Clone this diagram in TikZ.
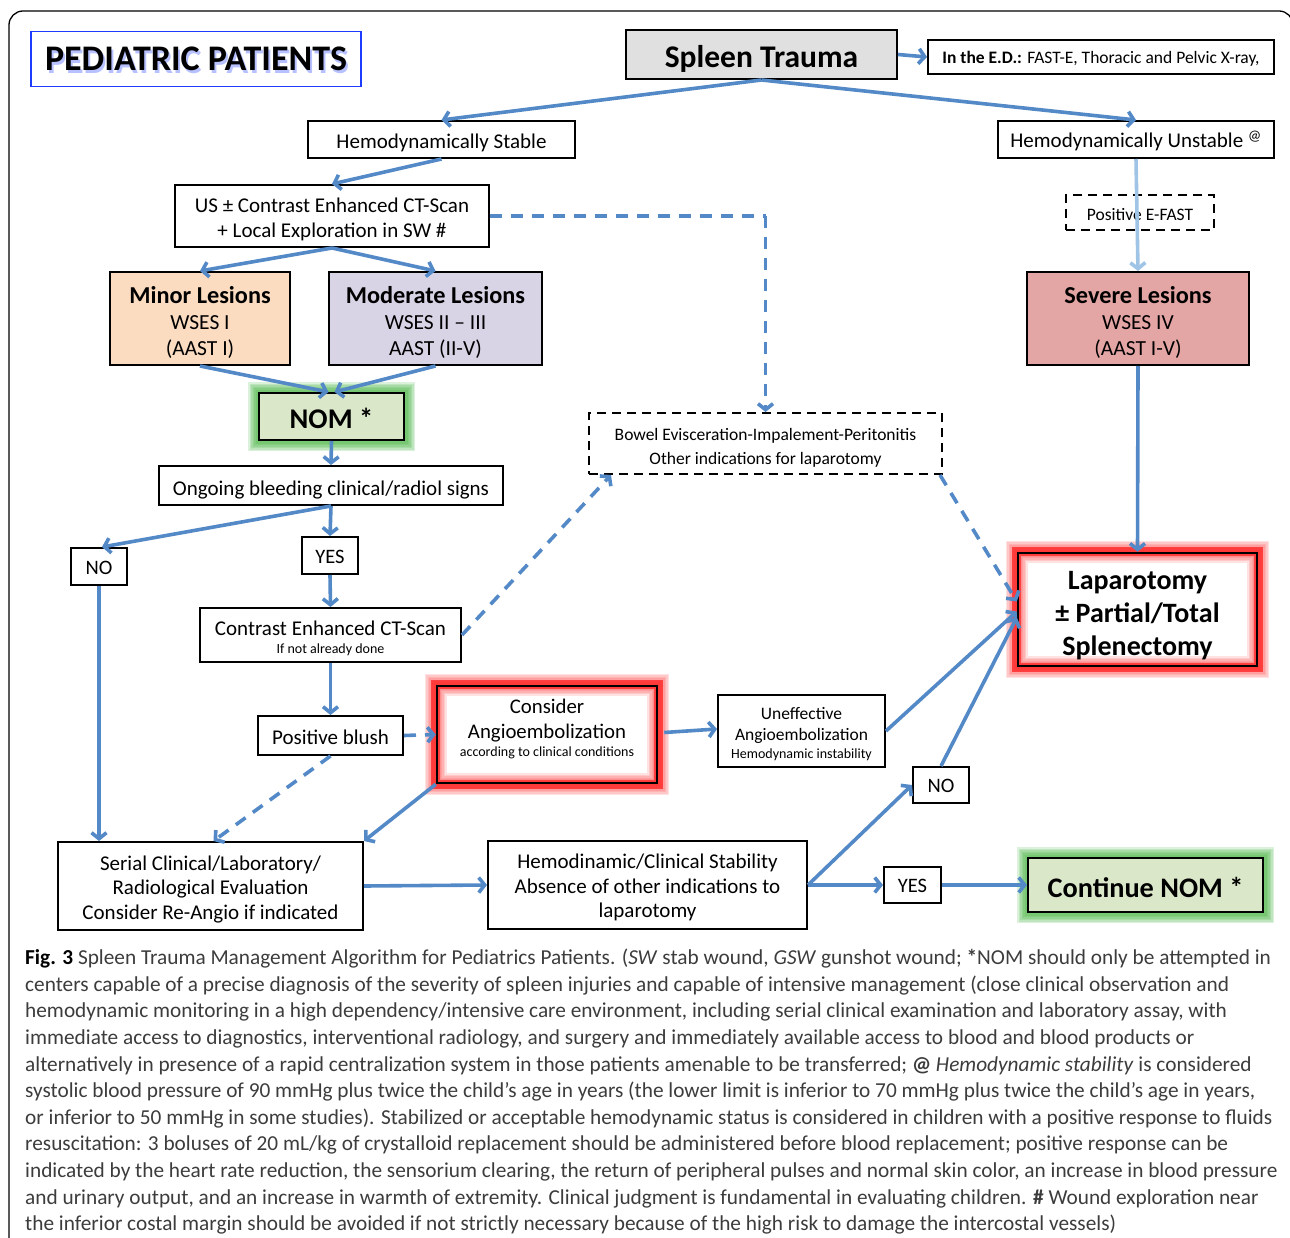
\documentclass[tikz,border=0pt]{standalone}
\usepackage{fontspec}
\setmainfont{Carlito}
\usetikzlibrary{arrows.meta,calc}
\definecolor{arrowblue}{RGB}{84,137,199}
\definecolor{lightarrow}{RGB}{160,196,230}
\definecolor{titleblue}{RGB}{30,60,255}
\definecolor{spleengray}{RGB}{224,224,224}
\definecolor{minorfill}{RGB}{251,220,192}
\definecolor{modfill}{RGB}{217,211,230}
\definecolor{sevfill}{RGB}{228,166,164}
\definecolor{nomfill}{RGB}{219,231,201}
\definecolor{glowgreen}{RGB}{50,170,45}
\definecolor{glowred}{RGB}{255,30,30}
\definecolor{capgray}{RGB}{60,60,60}
\newcommand\fsz[2]{\fontsize{#1}{#2}\selectfont}
\newcommand\lift[1]{\rule{0pt}{#1pt}}
\pgfdeclarelayer{glow}
\pgfsetlayers{glow,main}
\begin{document}
\begin{tikzpicture}[x=1pt,y=-1pt,
  box/.style={draw=black, line width=2pt, align=center, inner sep=0pt, font=\fsz{21}{25}},
  wh/.style 2 args={minimum width=#1pt, minimum height=#2pt},
  dn/.style={execute at begin node={\rule{0pt}{#1pt}}},
  upby/.style={execute at end node={\rule[-#1pt]{0pt}{0pt}}},
  dbox/.style={box, dash pattern=on 9pt off 6pt, line width=2pt},
  arr/.style={draw=arrowblue, line width=3.6pt, -{Straight Barb[length=6pt,width=15pt]}},
  darr/.style={arr, dash pattern=on 12pt off 9pt},
  dline/.style={draw=arrowblue, line width=3.6pt, dash pattern=on 12pt off 9pt},
  rglow/.style={glowred, line width=#1pt, opacity=0.13},
  gglow/.style={glowgreen, line width=#1pt, opacity=0.17}]
\useasboundingbox (0,0) rectangle (1290,1238);
% outer frame
\draw[line width=1.3pt, rounded corners=14pt] (9,1260) -- (9,11) -- (1293,11) -- (1293,1260);

% nodes
\node[box, wh={330}{55}, draw=titleblue, line width=1.6pt, font=\fsz{36}{38}\bfseries] (title) at (196,59) {PEDIATRIC PATIENTS};
\node[box, wh={271}{49}, fill=spleengray, font=\fsz{31.5}{34}\bfseries, dn=30.7] (spleen) at (761.5,54.5) {Spleen Trauma};
\node[box, wh={346}{34}, font=\fsz{17.5}{20}, dn=16.6] (ed) at (1101,57) {\textbf{In the E.D.:} FAST-E, Thoracic and Pelvic X-ray,};
\node[box, wh={267}{37}, dn=21.1] (hs) at (441.5,139.5) {Hemodynamically Stable};
\node[box, wh={276}{37}, dn=20] (hu) at (1136,139.5) {Hemodynamically Unstable \textsuperscript{@}};
\node[box, wh={314}{62}] (us) at (332,216) {\lift{22.1}US ± Contrast Enhanced CT-Scan\\+ Local Exploration in SW \#};
\node[box, wh={180}{93}, fill=minorfill, font=\fsz{21.5}{26}] (minor) at (200,318.5) {{\lift{25.5}\fsz{24.3}{26}\bfseries Minor Lesions}\\WSES I\\(AAST I)};
\node[box, wh={213}{93}, fill=modfill, font=\fsz{21.5}{26}] (moderate) at (435.5,318.5) {{\lift{25.5}\fsz{24.3}{26}\bfseries Moderate Lesions}\\WSES II – III\\AAST (II-V)};
\node[box, wh={222}{93}, fill=sevfill, font=\fsz{21.5}{26}] (severe) at (1138,318.5) {{\lift{25.5}\fsz{24.3}{26}\bfseries Severe Lesions}\\WSES IV\\(AAST I-V)};
\node[dbox, wh={148}{35}, font=\fsz{17.5}{20}, dn=16.6] (efast) at (1140,212.5) {Positive E-FAST};
\node[box, wh={145}{47}, fill=nomfill, font=\fsz{28.5}{32}\bfseries, dn=24.5] (nom) at (331.5,416.5) {NOM *};
\node[box, wh={344}{39}, dn=23.1] (ongoing) at (331,485.5) {Ongoing bleeding clinical/radiol signs};
\node[dbox, wh={353}{61}, font=\fsz{17.5}{24}] (bowel) at (765.5,443.5) {\lift{20.6}Bowel Evisceration-Impalement-Peritonitis\\Other indications for laparotomy};
\node[box, wh={56}{37}, font=\fsz{20.5}{22}, dn=15.5] (noL) at (99,566.5) {NO};
\node[box, wh={56}{37}, font=\fsz{20.5}{22}, dn=15.5] (yesM) at (330,555.5) {YES};
\node[box, wh={261}{54}] (ct) at (330.5,635) {\lift{21.1}Contrast Enhanced CT-Scan\\[-7pt]{\fsz{14}{15}If not already done}};
\node[box, wh={145}{39}, dn=19.1] (blush) at (330.5,735.5) {Positive blush};
\node[box, wh={220}{97}, line width=2.5pt, font=\fsz{20.8}{25}, upby=13] (angio) at (547,734.5) {Consider\\Angioembolization\\[-7pt]{\fsz{14}{15}according to clinical conditions}};
\node[box, wh={167}{72}, font=\fsz{17.5}{21}] (uneff) at (801.5,731) {\lift{18.6}Uneffective\\Angioembolization\\[-3pt]{\fsz{14}{15}Hemodynamic instability}};
\node[box, wh={239}{113}, line width=2.5pt, font=\fsz{28}{33}\bfseries] (lap) at (1137.5,609.5) {\lift{30.2}Laparotomy\\± Partial/Total\\Splenectomy};
\node[box, wh={56}{36}, font=\fsz{20.5}{22}, dn=15.5] (noR) at (941,785) {NO};
\node[box, wh={305}{88}, font=\fsz{21}{24.5}] (serial) at (210.5,886) {\lift{21.1}Serial Clinical/Laboratory/\\Radiological Evaluation\\Consider Re-Angio if indicated};
\node[box, wh={319}{88}, font=\fsz{21}{24.5}] (hemo) at (647.5,885) {\lift{20.1}Hemodinamic/Clinical Stability\\Absence of other indications to\\laparotomy};
\node[box, wh={57}{36}, font=\fsz{20.5}{22}, dn=15.5] (yesR) at (912.5,885) {YES};
\node[box, wh={235}{54}, fill=nomfill, font=\fsz{28.3}{32}\bfseries, dn=24.4] (cont) at (1145.5,885) {Continue NOM *};

% glows and shadows
\begin{pgfonlayer}{glow}
  \foreach \n in {angio,lap}{
    \foreach \w in {22,19,16,13,10,7,4}{\draw[rglow=\w] (\n.north west) rectangle (\n.south east);}
    \draw[glowred, line width=9pt, opacity=0.7] (\n.north west) rectangle (\n.south east);
  }
  \foreach \n in {nom,cont}{
    \foreach \w in {20,17,14,11,8,5}{\draw[gglow=\w] (\n.north west) rectangle (\n.south east);}
  }
  \node[text=titleblue!40, font=\fsz{36}{38}\bfseries, opacity=0.8] (titleshadow) at ($(title.center)+(2,3)$) {PEDIATRIC PATIENTS};
\end{pgfonlayer}

% connectors
\draw[arr] (spleen.east) -- (ed.west);
\draw[arr] (spleen.south) -- (hs.north);
\draw[arr] (spleen.south) -- (hu.north);
\draw[arr] (hs.south) -- (us.north);
\draw[arr] (us.south) -- (minor.north);
\draw[arr] (us.south) -- (moderate.north);
\draw[arr] (minor.south) -- ($(nom.north)+(-3,0)$);
\draw[arr] (moderate.south) -- ($(nom.north)+(3,0)$);
\draw[arr] (nom.south) -- (ongoing.north);
\draw[arr] (ongoing.south) -- ($(noL.north)+(3,0)$);
\draw[arr] (ongoing.south) -- (yesM.north);
\draw[arr] (yesM.south) -- (ct.north);
\draw[arr] (ct.south) -- (blush.north);
\draw[darr] (blush.east) -- (angio.west);
\draw[arr] ($(angio.east)+(6,-2)$) -- ($(uneff.west)+(0,-2)$);
\draw[darr] (ct.east) -- ($(bowel.south west)+(23,0)$);
\draw[dline] (us.east) -- (us.east -| bowel.north);
\draw[darr] (us.east -| bowel.north) -- (bowel.north);
\draw[darr] ($(bowel.south east)+(-3,0)$) -- ($(lap.west)+(0,-8)$);
\draw[draw=lightarrow, line width=3.6pt, -{Straight Barb[length=6pt,width=15pt]}] (hu.south) -- (severe.north);
\draw[arr] (severe.south) -- (lap.north);
\draw[arr] (uneff.east) -- ($(lap.west)+(0,2)$);
\draw[arr] (noR.north) -- ($(lap.west)+(0,8)$);
\draw[arr] (noL.south) -- (noL.south |- serial.north);
\draw[darr] (blush.south) -- ($(serial.north)+(3,0)$);
\draw[arr] (angio.south west) -- (serial.north east);
\draw[arr] (serial.east) -- (hemo.west);
\draw[arr] (hemo.east) -- (noR.west);
\draw[arr] (hemo.east) -- (yesR.west);
\draw[arr] (yesR.east) -- (cont.west);

% caption
\node[anchor=north west, align=left, inner sep=0pt, text=capgray, font=\fsz{21.3}{26.6}] (caption) at (25,949) {%
{\bfseries\color{black}Fig. 3} Spleen Trauma Management Algorithm for Pediatrics Patients. (\textit{SW} stab wound, \textit{GSW} gunshot wound; \textbf{*}NOM should only be attempted in\\
centers capable of a precise diagnosis of the severity of spleen injuries and capable of intensive management (close clinical observation and\\
hemodynamic monitoring in a high dependency/intensive care environment, including serial clinical examination and laboratory assay, with\\
immediate access to diagnostics, interventional radiology, and surgery and immediately available access to blood and blood products or\\
alternatively in presence of a rapid centralization system in those patients amenable to be transferred; \textbf{@} \textit{Hemodynamic stability} is considered\\
systolic blood pressure of 90 mmHg plus twice the child’s age in years (the lower limit is inferior to 70 mmHg plus twice the child’s age in years,\\
or inferior to 50 mmHg in some studies). Stabilized or acceptable hemodynamic status is considered in children with a positive response to fluids\\
resuscitation: 3 boluses of 20 mL/kg of crystalloid replacement should be administered before blood replacement; positive response can be\\
indicated by the heart rate reduction, the sensorium clearing, the return of peripheral pulses and normal skin color, an increase in blood pressure\\
and urinary output, and an increase in warmth of extremity. Clinical judgment is fundamental in evaluating children. \textbf{\#} Wound exploration near\\
the inferior costal margin should be avoided if not strictly necessary because of the high risk to damage the intercostal vessels)};
\end{tikzpicture}
\end{document}
